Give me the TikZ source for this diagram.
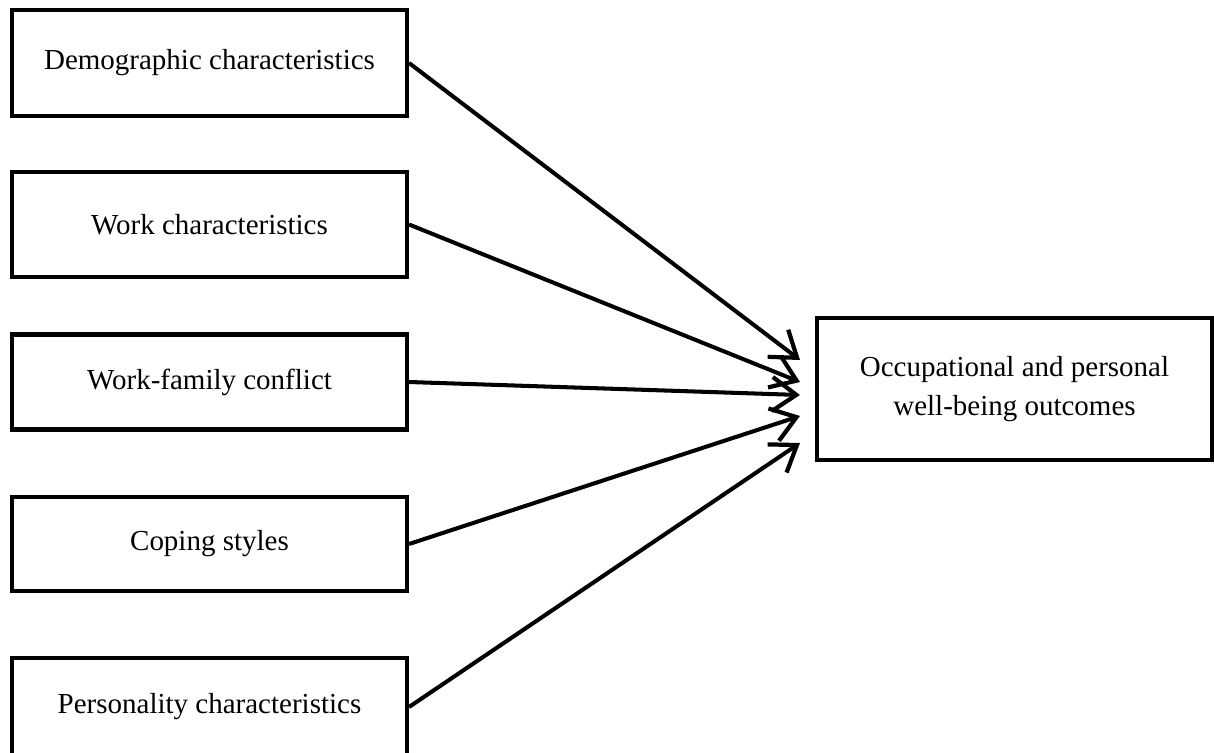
\documentclass[tikz,border=0pt]{standalone}
\usepackage{fontspec}
\setmainfont{Liberation Serif}
\usetikzlibrary{arrows.meta, positioning}

\begin{document}
\begin{tikzpicture}[
    factor/.style={rectangle, draw=black, line width=2.3pt, fill=white,
                   minimum width=7.9cm, align=center,
                   font=\fontsize{16.5}{22}\selectfont},
    outcome/.style={rectangle, draw=black, line width=2.3pt, fill=white,
                    minimum width=7.9cm, minimum height=2.84cm, align=center,
                    font=\fontsize{16.5}{22}\selectfont},
    arr/.style={-{Straight Barb[length=0.48cm, width=0.68cm, line width=2.4pt]},
                line width=2.3pt, black},
]

  %% ---- fixed canvas (1 px = 0.02 cm) ----
  \useasboundingbox (0,0) rectangle (24.28,-15.04);

  %% ---- predictor boxes on the left ----
  \node[factor, minimum height=2.12cm] (demo) at (4.19, -1.26)  {Demographic characteristics};
  \node[factor, minimum height=2.1cm]  (work) at (4.19, -4.49)  {Work characteristics};
  \node[factor, minimum height=1.9cm]  (wfc)  at (4.19, -7.64)  {Work-family conflict};
  \node[factor, minimum height=1.88cm] (cope) at (4.19, -10.88) {Coping styles};
  \node[factor, minimum height=1.96cm] (pers) at (4.19, -14.14) {Personality characteristics};

  %% ---- outcome box on the right ----
  \node[outcome] (outc) at (20.29, -7.78) {Occupational and personal\\well-being outcomes};

  %% ---- arrows converging just left of the outcome box ----
  \draw[arr] (demo.east) -- ([xshift=-0.3cm, yshift=0.58cm]outc.west);
  \draw[arr] (work.east) -- ([xshift=-0.3cm, yshift=0.14cm]outc.west);
  \draw[arr] (wfc.east)  -- ([xshift=-0.3cm, yshift=-0.12cm]outc.west);
  \draw[arr] (cope.east) -- ([xshift=-0.3cm, yshift=-0.54cm]outc.west);
  \draw[arr] (pers.east) -- ([xshift=-0.3cm, yshift=-1.08cm]outc.west);

\end{tikzpicture}
\end{document}
